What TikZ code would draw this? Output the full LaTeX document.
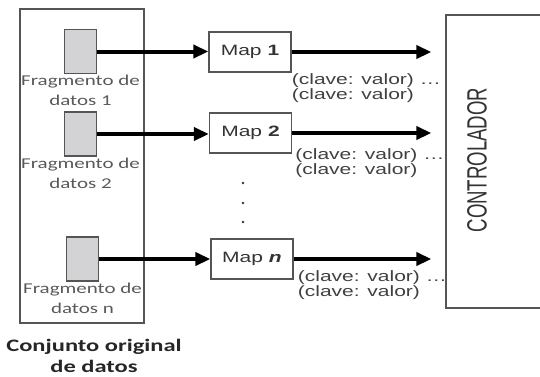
\documentclass[tikz,border=0pt]{standalone}
\usepackage{fontspec}
\setmainfont{Liberation Sans}[FakeStretch=1.4]
\newfontfamily\fragfont{Carlito}[FakeStretch=1.4]
\newfontfamily\ctrlfont{Liberation Sans}
\usetikzlibrary{arrows.meta,positioning}
\definecolor{borde}{HTML}{555555}
\definecolor{gris}{HTML}{D3D3D5}
\tikzset{
	caja/.style={draw=borde, line width=1.3pt, minimum width=82pt, minimum height=40pt, inner sep=0pt, text=black!80, font=\fontsize{15}{18}\selectfont},
	frag/.style={draw=borde, line width=1.2pt, fill=gris, minimum width=32pt, minimum height=44pt, inner sep=0pt},
	fragtxt/.style={align=center, inner sep=0pt, text=black!65, font=\fragfont\fontsize{15}{20}\selectfont},
	clave/.style={align=left, inner sep=0pt, anchor=north west, text=black!75, font=\fontsize{15}{15}\selectfont},
	flecha/.style={line width=4pt, -{Triangle[length=15pt,width=13pt]}},
}
\begin{document}
\begin{tikzpicture}[x=1pt, y=-1pt]
	\clip (0,0) rectangle (540,376);

	\node[draw=borde, line width=1.3pt, minimum width=124pt, minimum height=314pt] (conjunto) at (82,166) {};
	\node[frag] (frag1) at (80.5,51.5) {};
	\node[frag] (frag2) at (80.5,134) {};
	\node[frag] (fragn) at (82.5,259) {};
	\node[fragtxt, below=1pt of frag1] (txt1) {Fragmento de\\datos 1};
	\node[fragtxt, below=1pt of frag2] (txt2) {Fragmento de\\datos 2};
	\node[fragtxt, below=1pt of fragn] (txtn) {Fragmento de\\datos n};
	\node[anchor=north, align=center, inner sep=0pt, text=black!85, font=\fragfont\bfseries\fontsize{17.5}{21}\selectfont] (titulo) at ([xshift=12pt, yshift=-15pt]conjunto.south) {Conjunto original\\de datos};

	\node[caja] (map1) at (250,52) {Map \textbf{1}};
	\node[caja] (map2) at (250.5,133) {Map \textbf{2}};
	\node[caja] (mapn) at (252,259) {Map \textbf{\textit{n}}};

	\node[draw=borde, line width=1.3pt, minimum width=114pt, minimum height=293pt] (ctrl) at (503,161.5) {};
	\node[rotate=90, inner sep=0pt, text=black!80, font=\ctrlfont\fontsize{18.6}{20}\selectfont] (ctrltxt) at (477,160) {\scalebox{1}[1.5]{CONTROLADOR}};

	\node[clave] (clave1) at ([yshift=-21pt]map1.east) {(clave: valor) …\\(clave: valor)};
	\node[clave] (clave2) at ([xshift=3pt, yshift=-15pt]map2.east) {(clave: valor) …\\(clave: valor)};
	\node[clave] (claven) at ([xshift=4pt, yshift=-11pt]mapn.east) {(clave: valor) …\\(clave: valor)};

	\foreach \i in {1,2,n}{
	\draw[flecha] (frag\i.east) -- (frag\i.east -| map\i.west);
	\draw[flecha, shorten >=14pt] (map\i.east) -- (map\i.east -| ctrl.west);
	}
	\foreach \y in {183,203,222}{
	\fill[black!80] (243,\y) circle (1.3pt);
	}
\end{tikzpicture}
\end{document}
